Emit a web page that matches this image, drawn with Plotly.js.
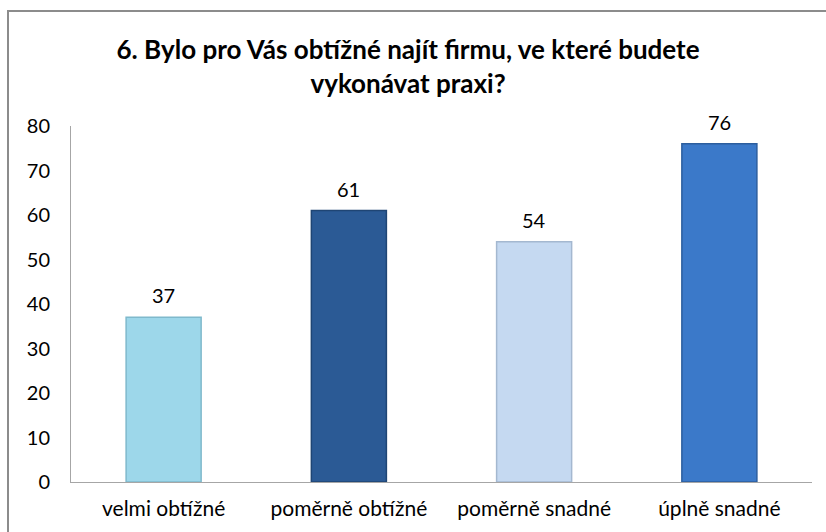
<!DOCTYPE html>
<html>
<head>
<meta charset="utf-8">
<script src="https://cdn.plot.ly/plotly-3.0.1.min.js"></script>
<style>
html,body{margin:0;padding:0;background:#fff;overflow:hidden;}
#wrap{position:absolute;left:0;top:0;width:826px;height:532px;}
#frame{position:absolute;left:7px;top:10px;width:830px;height:540px;border-left:2px solid #8c8c8c;border-top:2px solid #8c8c8c;pointer-events:none;}
#chart{position:absolute;left:0;top:0;width:826px;height:532px;}
</style>
</head>
<body>
<div id="wrap">
<div id="chart"></div>
<div id="frame"></div>
</div>
<script>
const categories = ["velmi obtížné", "poměrně obtížné", "poměrně snadné", "úplně snadné"];
const values = [37, 61, 54, 76];
const barColors = ["#9dd7ea", "#2b5a95", "#c5d9f1", "#3b79c9"];
const barEdges = ["#7fb9cc", "#1f4574", "#a4b8d0", "#2c5e9e"];
const yTicks = [0, 10, 20, 30, 40, 50, 60, 70, 80];
const titleText = "6. Bylo pro Vás obtížné najít firmu, ve které budete<br>vykonávat praxi?";

const font = "Lato, 'Open Sans', sans-serif";

const trace = {
  type: "bar",
  x: categories,
  y: values,
  width: 0.405,
  marker: {color: barColors, line: {color: barEdges, width: 1.5}},
  hoverinfo: "x+y",
  showlegend: false
};

const annotations = categories.map((c, i) => ({
  x: c, y: values[i], xref: "x", yref: "y",
  text: String(values[i]), showarrow: false,
  yanchor: "bottom", yshift: 8,
  font: {family: font, size: 20, color: "#000"}
}));

const layout = {
  width: 826, height: 532,
  margin: {l: 71, r: 14, t: 126, b: 50},
  paper_bgcolor: "#fff", plot_bgcolor: "#fff",
  title: {
    text: "<b>" + titleText + "</b>",
    font: {family: font, size: 26, color: "#000"},
    x: 0.494, xanchor: "center", y: 0.889, yanchor: "top"
  },
  xaxis: {
    type: "category",
    showline: true, linecolor: "#a6a6a6", linewidth: 1,
    showgrid: false, zeroline: false, ticks: "",
    tickfont: {family: font, size: 21, color: "#000"},
    ticklabelstandoff: 8
  },
  yaxis: {
    range: [0, 80], tickvals: yTicks, ticktext: yTicks.map(String),
    showline: true, linecolor: "#a6a6a6", linewidth: 1,
    showgrid: false, zeroline: false, ticks: "",
    tickfont: {family: font, size: 20, color: "#000"},
    ticklabelstandoff: 16
  },
  annotations: annotations,
  bargap: 0.6
};

Plotly.newPlot("chart", [trace], layout, {displayModeBar: false, staticPlot: true});
</script>
</body>
</html>
